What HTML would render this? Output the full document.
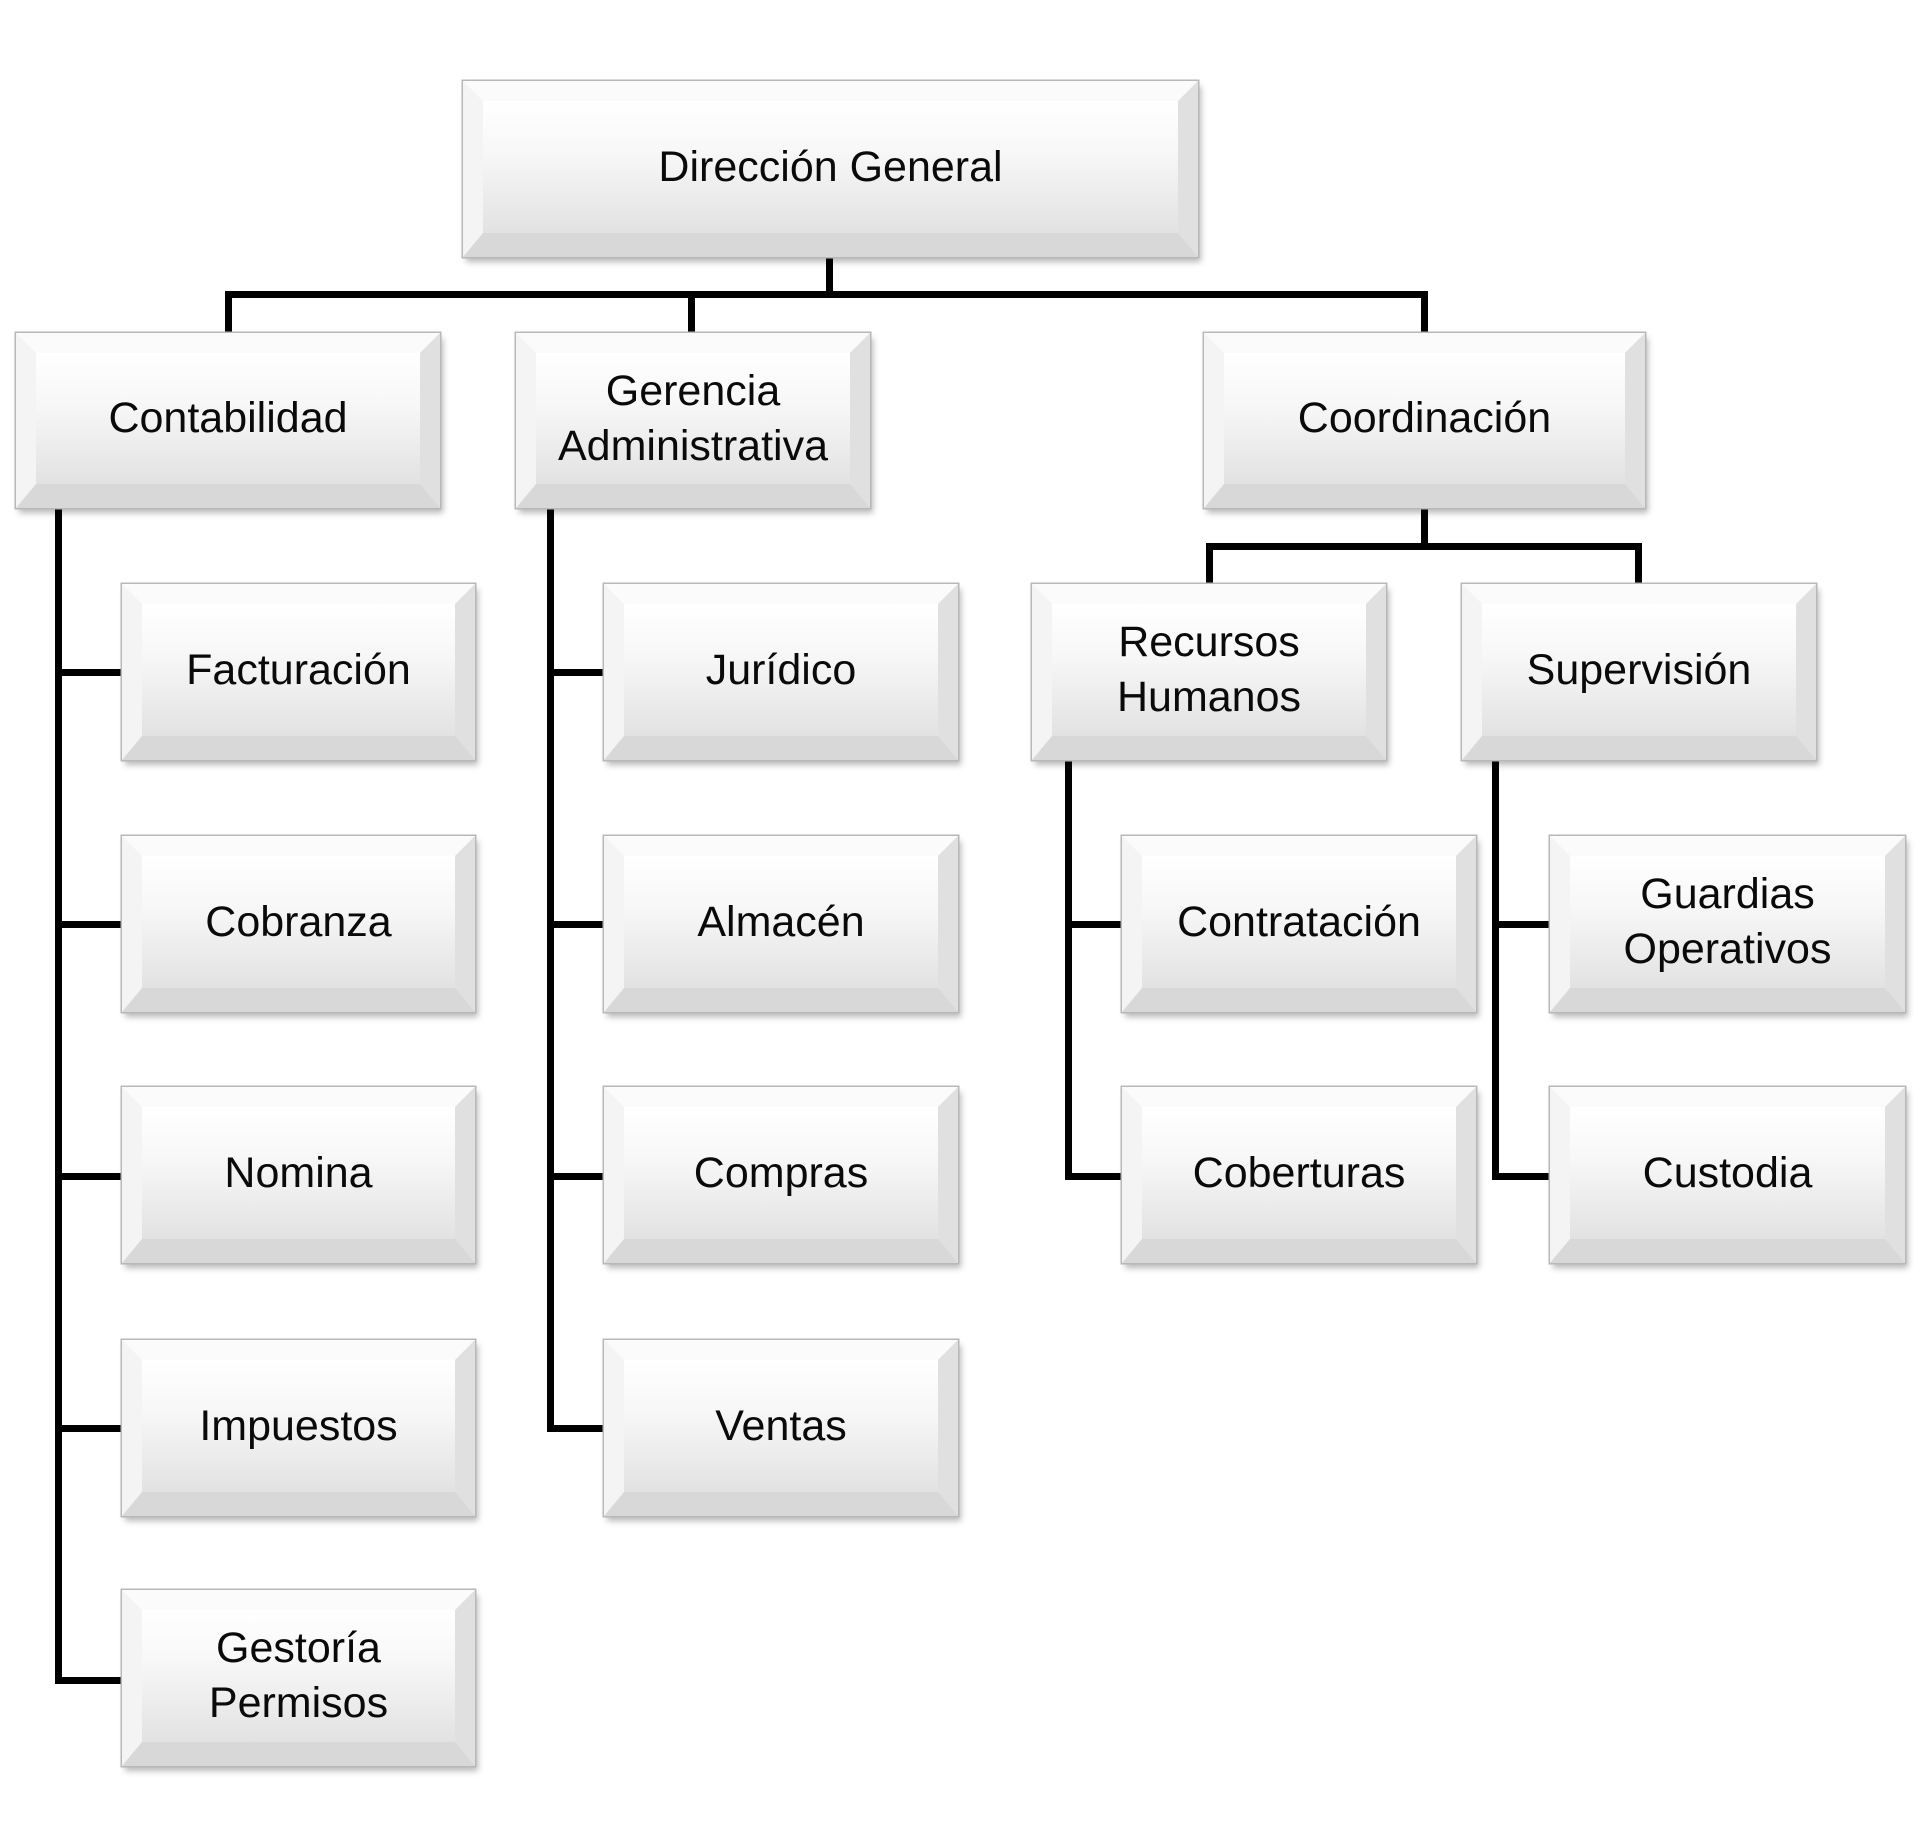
<!DOCTYPE html>
<html><head><meta charset="utf-8">
<style>
html,body{margin:0;padding:0;background:#fff}
#c{position:relative;width:1920px;height:1848px;overflow:hidden;background:#fff}
.b{position:absolute;box-sizing:border-box;border-style:solid;border-width:20px 20px 24px 20px;
border-top-color:#fbfbfb;border-left-color:#f4f4f4;border-right-color:#e0e0e0;border-bottom-color:#d8d8d8;
background:linear-gradient(#ffffff 0%,#f7f7f7 40%,#e2e2e2 100%);
box-shadow:0 0 0 1.5px #b8b8b8,3px 5px 6px rgba(0,0,0,0.28);
display:flex;align-items:center;justify-content:center;text-align:center;
font-family:"Liberation Sans",sans-serif;font-size:43px;line-height:55px;color:#0a0a0a}
.l{position:absolute;background:#000}
</style></head><body><div id="c">
<div class="l" style="left:826px;top:257px;width:7px;height:40px"></div>
<div class="l" style="left:225px;top:291px;width:1202px;height:7px"></div>
<div class="l" style="left:225px;top:291px;width:7px;height:42px"></div>
<div class="l" style="left:688px;top:291px;width:7px;height:42px"></div>
<div class="l" style="left:1421px;top:291px;width:7px;height:42px"></div>
<div class="l" style="left:1421px;top:508px;width:7px;height:42px"></div>
<div class="l" style="left:1206px;top:543px;width:436px;height:7px"></div>
<div class="l" style="left:1206px;top:543px;width:7px;height:41px"></div>
<div class="l" style="left:1635px;top:543px;width:7px;height:41px"></div>

<div class="l" style="left:55px;top:508px;width:7px;height:1176px"></div>
<div class="l" style="left:55px;top:669px;width:67px;height:7px"></div>
<div class="l" style="left:55px;top:921px;width:67px;height:7px"></div>
<div class="l" style="left:55px;top:1173px;width:67px;height:7px"></div>
<div class="l" style="left:55px;top:1425px;width:67px;height:7px"></div>
<div class="l" style="left:55px;top:1677px;width:67px;height:7px"></div>

<div class="l" style="left:547px;top:508px;width:7px;height:924px"></div>
<div class="l" style="left:547px;top:669px;width:57px;height:7px"></div>
<div class="l" style="left:547px;top:921px;width:57px;height:7px"></div>
<div class="l" style="left:547px;top:1173px;width:57px;height:7px"></div>
<div class="l" style="left:547px;top:1425px;width:57px;height:7px"></div>

<div class="l" style="left:1065px;top:760px;width:7px;height:420px"></div>
<div class="l" style="left:1065px;top:921px;width:57px;height:7px"></div>
<div class="l" style="left:1065px;top:1173px;width:57px;height:7px"></div>

<div class="l" style="left:1492px;top:760px;width:7px;height:420px"></div>
<div class="l" style="left:1492px;top:921px;width:58px;height:7px"></div>
<div class="l" style="left:1492px;top:1173px;width:58px;height:7px"></div>

<div class="b" style="left:463px;top:81px;width:735px;height:176px">Dirección General</div>
<div class="b" style="left:16px;top:333px;width:424px;height:175px">Contabilidad</div>
<div class="b" style="left:516px;top:333px;width:354px;height:175px">Gerencia<br>Administrativa</div>
<div class="b" style="left:1204px;top:333px;width:441px;height:175px">Coordinación</div>

<div class="b" style="left:122px;top:584px;width:353px;height:176px">Facturación</div>
<div class="b" style="left:122px;top:836px;width:353px;height:176px">Cobranza</div>
<div class="b" style="left:122px;top:1087px;width:353px;height:176px">Nomina</div>
<div class="b" style="left:122px;top:1340px;width:353px;height:176px">Impuestos</div>
<div class="b" style="left:122px;top:1590px;width:353px;height:176px">Gestoría<br>Permisos</div>

<div class="b" style="left:604px;top:584px;width:354px;height:176px">Jurídico</div>
<div class="b" style="left:604px;top:836px;width:354px;height:176px">Almacén</div>
<div class="b" style="left:604px;top:1087px;width:354px;height:176px">Compras</div>
<div class="b" style="left:604px;top:1340px;width:354px;height:176px">Ventas</div>

<div class="b" style="left:1032px;top:584px;width:354px;height:176px">Recursos<br>Humanos</div>
<div class="b" style="left:1462px;top:584px;width:354px;height:176px">Supervisión</div>
<div class="b" style="left:1122px;top:836px;width:354px;height:176px">Contratación</div>
<div class="b" style="left:1122px;top:1087px;width:354px;height:176px">Coberturas</div>
<div class="b" style="left:1550px;top:836px;width:355px;height:176px">Guardias<br>Operativos</div>
<div class="b" style="left:1550px;top:1087px;width:355px;height:176px">Custodia</div>
</div></body></html>
